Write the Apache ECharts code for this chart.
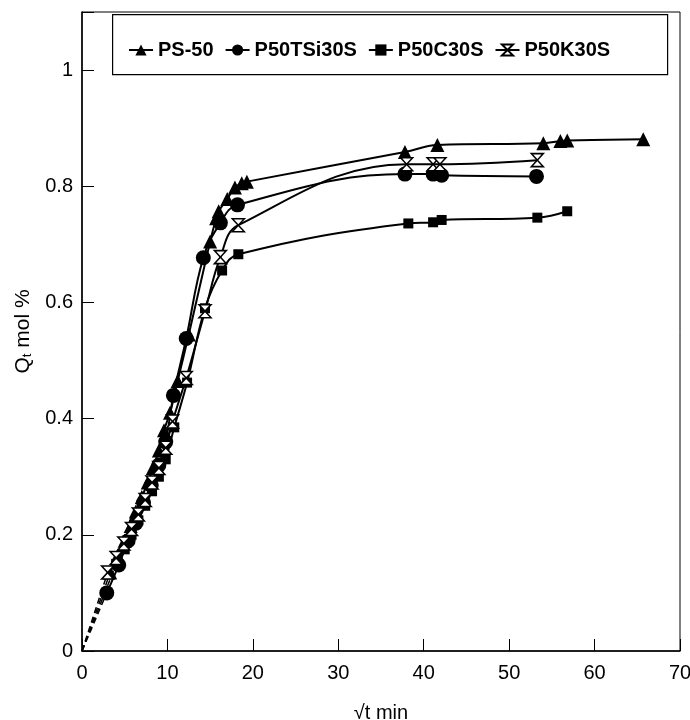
<!DOCTYPE html>
<html>
<head>
<meta charset="utf-8">
<script src="https://cdn.jsdelivr.net/npm/echarts@6/dist/echarts.min.js"></script>
<style>html,body{margin:0;padding:0;background:#fff}#c{width:690px;height:720px}</style>
</head>
<body>
<div id="c"></div>
<script>
var seriesNames = ['PS-50', 'P50TSi30S', 'P50C30S', 'P50K30S'];
var xTicks = [0, 10, 20, 30, 40, 50, 60, 70];
var yTicks = [0, 0.2, 0.4, 0.6, 0.8, 1];
var origin = [0, 0];

var ps50 = [
  [3.3,0.135],[4.2,0.165],[5.0,0.19],[5.7,0.215],[6.3,0.24],[7.0,0.265],[7.7,0.29],
  [8.3,0.315],[9.0,0.345],[9.6,0.38],[10.3,0.41],[11.2,0.465],[12.5,0.545],[15.0,0.705],
  [15.7,0.745],[16.0,0.757],[17.0,0.778],[17.9,0.798],[18.7,0.805],[19.3,0.808],
  [37.8,0.859],[41.6,0.871],[54.0,0.874],[56.0,0.878],[56.8,0.879],[65.7,0.881]
];
var p50tsi30s = [
  [2.9,0.10],[4.3,0.148],[5.4,0.19],[6.3,0.22],[7.2,0.255],[8.1,0.285],[9.0,0.32],
  [9.8,0.36],[10.7,0.44],[12.2,0.538],[14.2,0.677],[16.2,0.737],[18.2,0.768],
  [37.8,0.821],[41.1,0.821],[42.1,0.819],[53.2,0.817]
];
var p50c30s = [
  [4.0,0.15],[5.0,0.175],[5.8,0.20],[6.6,0.225],[7.4,0.25],[8.2,0.275],[9.0,0.30],
  [9.8,0.33],[10.8,0.385],[12.3,0.462],[14.4,0.59],[16.4,0.655],[18.3,0.683],
  [38.2,0.736],[41.1,0.738],[42.1,0.742],[53.3,0.746],[56.8,0.757]
];
var p50k30s = [
  [3.0,0.135],[4.0,0.16],[4.9,0.185],[5.8,0.21],[6.6,0.235],[7.4,0.26],[8.2,0.29],
  [9.0,0.315],[9.8,0.35],[10.6,0.395],[12.2,0.47],[14.4,0.585],[16.2,0.678],[18.3,0.733],
  [38.0,0.838],[41.1,0.838],[41.9,0.838],[53.3,0.845]
];

var allData = [ps50, p50tsi30s, p50c30s, p50k30s];
var symbols = ['triangle', 'circle', 'rect', 'path://M0,0 L10,0 L0,10 L10,10 Z'];
var symSizes = [14, 15, 10, [12, 13]];
var FONT = 'Liberation Sans';

var series = [];
allData.forEach(function (d, i) {
  var hollow = i === 3;
  series.push({
    name: seriesNames[i], type: 'line', data: d, smooth: 0.4,
    symbol: symbols[i], symbolSize: symSizes[i], showAllSymbol: true,
    lineStyle: { color: '#000', width: 2 },
    itemStyle: hollow ? { color: '#fff', borderColor: '#000', borderWidth: 1.5 } : { color: '#000' },
    z: 3 + i
  });
  series.push({
    name: seriesNames[i] + '-origin', type: 'line', data: [origin, d[0]],
    symbol: 'none', silent: true,
    lineStyle: { color: '#000', width: 1.5, type: [6, 4] },
    z: 2
  });
});

var chart = echarts.init(document.getElementById('c'), null, { renderer: 'canvas' });
chart.setOption({
  animation: false,
  backgroundColor: '#fff',
  textStyle: { fontFamily: FONT, color: '#000' },
  grid: { left: 82, right: 10, top: 12, bottom: 69, show: true, borderColor: '#000', borderWidth: 1,
    containLabel: false, outerBoundsMode: 'none' },
  graphic: [{
    type: 'rect', left: 112, top: 14, z: 1,
    shape: { width: 555, height: 60 },
    style: { fill: '#fff', stroke: '#000', lineWidth: 1.2 }
  }],
  legend: {
    data: seriesNames, left: 123, top: 35, itemGap: 11, itemWidth: 24, itemHeight: 14,
    textStyle: { fontFamily: FONT, fontSize: 20, fontWeight: 'bold', color: '#000' }, z: 5
  },
  xAxis: {
    type: 'value', min: xTicks[0], max: xTicks[xTicks.length - 1], interval: 10,
    name: '√t min', nameLocation: 'middle', nameGap: 52,
    nameTextStyle: { fontFamily: FONT, fontSize: 20, color: '#000' },
    axisLine: { lineStyle: { color: '#000', width: 1.5 } },
    axisTick: { inside: true, length: 12, lineStyle: { color: '#000' } },
    axisLabel: { fontFamily: FONT, fontSize: 20, color: '#000', margin: 12 },
    splitLine: { show: false }
  },
  yAxis: {
    type: 'value', min: 0, max: 1.1, interval: 0.2,
    name: 'Q{sub|t} mol %', nameLocation: 'middle', nameGap: 42,
    nameTextStyle: { fontFamily: FONT, fontSize: 21, color: '#000',
      rich: { sub: { fontFamily: FONT, fontSize: 13, color: '#000', verticalAlign: 'bottom', padding: [9, 0, 0, 0] } } },
    axisLine: { lineStyle: { color: '#000', width: 1.5 } },
    axisTick: { inside: true, length: 12, lineStyle: { color: '#000' } },
    axisLabel: { fontFamily: FONT, fontSize: 20, color: '#000', margin: 9,
      formatter: function (v) {
        for (var k = 0; k < yTicks.length; k++) if (Math.abs(yTicks[k] - v) < 1e-6) return String(yTicks[k]);
        return '';
      } },
    splitLine: { show: false }
  },
  series: series
});
</script>
</body>
</html>
